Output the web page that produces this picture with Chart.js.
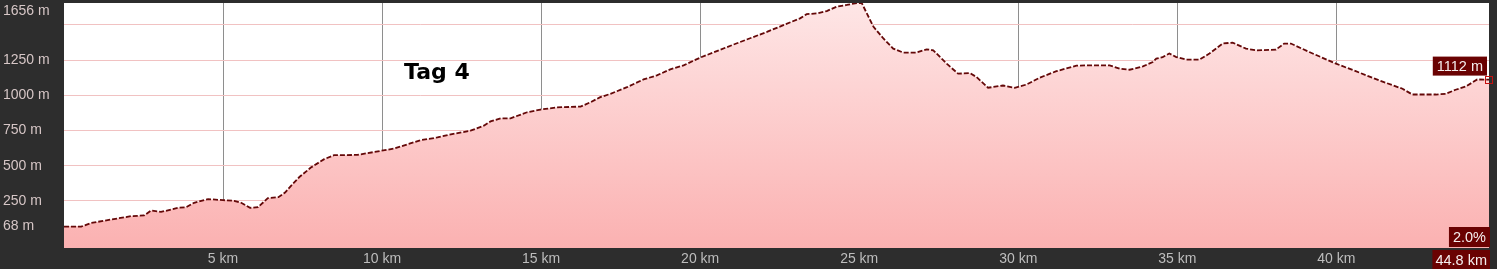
<!DOCTYPE html>
<html>
<head>
<meta charset="utf-8">
<script src="https://cdn.jsdelivr.net/npm/chart.js@4/dist/chart.umd.min.js"></script>
<style>
  html, body { margin: 0; padding: 0; background: #2d2d2d; }
  #wrap { position: relative; width: 1497px; height: 269px; }
  canvas { display: block; }
</style>
</head>
<body>
<div id="wrap"><canvas id="c" width="1497" height="269"></canvas></div>
<script>
const distanceKm = [0, 0.54, 0.86, 1.48, 2.11, 2.52, 2.74, 3.05, 3.58, 3.84, 4.09, 4.53, 5.0, 5.35, 5.57, 5.85, 6.1, 6.41, 6.74, 6.95, 7.13, 7.4, 7.76, 8.18, 8.49, 9.22, 9.96, 10.38, 11.21, 11.74, 12.2, 12.78, 13.2, 13.41, 13.73, 14.04, 14.56, 14.98, 15.5, 16.24, 16.55, 16.86, 17.18, 17.7, 18.22, 18.64, 19.06, 19.48, 20.0, 21.05, 22.1, 23.14, 23.35, 23.67, 23.98, 24.29, 24.61, 24.87, 25.08, 25.24, 25.45, 25.76, 26.07, 26.38, 26.8, 27.12, 27.33, 27.75, 28.11, 28.48, 28.69, 29.05, 29.52, 29.89, 30.26, 30.67, 31.2, 31.83, 32.24, 32.87, 33.19, 33.5, 33.92, 34.23, 34.34, 34.54, 34.75, 34.97, 35.28, 35.7, 36.01, 36.43, 36.74, 37.16, 37.48, 38.1, 38.36, 38.57, 39.15, 39.99, 40.61, 41.35, 42.08, 42.39, 43.13, 43.44, 43.75, 44.07, 44.43, 44.8];
const elevationM = [68, 68, 94, 118, 142, 147, 182, 172, 201, 206, 237, 263, 256, 251, 237, 201, 206, 270, 277, 310, 356, 420, 487, 547, 575, 577, 606, 622, 682, 701, 725, 749, 785, 815, 837, 837, 880, 899, 915, 920, 951, 987, 1011, 1058, 1113, 1142, 1185, 1213, 1268, 1361, 1451, 1547, 1577, 1582, 1599, 1630, 1642, 1654, 1656, 1582, 1487, 1404, 1332, 1304, 1304, 1327, 1320, 1225, 1154, 1158, 1130, 1054, 1070, 1054, 1077, 1125, 1172, 1211, 1213, 1213, 1190, 1182, 1206, 1237, 1261, 1272, 1297, 1272, 1254, 1254, 1297, 1368, 1375, 1332, 1320, 1325, 1368, 1368, 1308, 1225, 1172, 1106, 1047, 1006, 1006, 1011, 1040, 1063, 1113, 1112];
const xTickValues = [5, 10, 15, 20, 25, 30, 35, 40];
const yTickValues = [68, 250, 500, 750, 1000, 1250, 1500, 1656];
const yLabeledTicks = [68, 250, 500, 750, 1000, 1250];
const titleText = 'Tag 4';
const totalDistanceLabel = '44.8 km';
const gradeLabel = '2.0%';

const yMin = -84;
const yMax = Math.max(...elevationM);
const xMax = distanceKm[distanceKm.length - 1];
const points = distanceKm.map((d, i) => ({ x: d, y: elevationM[i] }));

const FONT = '"Liberation Sans", Arial, sans-serif';

function box(ctx, text, right, top, h, padX) {
  ctx.font = '14.5px ' + FONT;
  const w = ctx.measureText(text).width + padX * 2;
  ctx.fillStyle = '#6a0202';
  ctx.fillRect(right - w, top, w, h);
  ctx.fillStyle = '#f4eeee';
  ctx.textAlign = 'center';
  ctx.textBaseline = 'middle';
  ctx.fillText(text, right - w / 2, top + h / 2 + 1);
}

const overlay = {
  id: 'overlay',
  afterDraw(chart) {
    const ctx = chart.ctx;
    const xs = chart.scales.x, ys = chart.scales.y;
    const ca = chart.chartArea;
    ctx.save();
    ctx.font = '14px ' + FONT;
    ctx.fillStyle = '#d6c6c6';
    ctx.textAlign = 'left';
    ctx.textBaseline = 'middle';
    ctx.fillText(yMax + ' m', 3, ys.getPixelForValue(yMax) + 8);
    ctx.font = 'bold 22px "DejaVu Sans", Verdana, sans-serif';
    ctx.fillStyle = '#000';
    ctx.textAlign = 'left';
    ctx.textBaseline = 'alphabetic';
    ctx.fillText(titleText, xs.getPixelForValue(10.69), ys.getPixelForValue(1118));
    const lx = xs.getPixelForValue(xMax);
    const ly = ys.getPixelForValue(elevationM[elevationM.length - 1]);
    ctx.strokeStyle = '#c41010';
    ctx.lineWidth = 1;
    ctx.strokeRect(Math.round(lx) - 3.5, Math.round(ly) - 3.5, 7, 7);
    box(ctx, elevationM[elevationM.length - 1] + ' m', lx - 2, ly - 23, 19, 4);
    box(ctx, gradeLabel, lx + 1, ca.bottom - 21, 20, 4);
    box(ctx, totalDistanceLabel, lx + 1, ca.bottom + 2, 19, 3);
    ctx.restore();
  }
};

new Chart(document.getElementById('c'), {
  type: 'line',
  data: {
    datasets: [{
      data: points,
      borderColor: '#640808',
      borderWidth: 1.8,
      borderDash: [5, 2],
      pointRadius: 0,
      tension: 0,
      fill: 'start',
      backgroundColor(ctx) {
        const ca = ctx.chart.chartArea;
        if (!ca) return '#fcc';
        const g = ctx.chart.ctx.createLinearGradient(0, ca.top, 0, ca.bottom);
        g.addColorStop(0, '#fee6e6');
        g.addColorStop(1, '#fbb1b1');
        return g;
      }
    }]
  },
  options: {
    responsive: false,
    animation: false,
    events: [],
    layout: { padding: { top: 3, right: 8, left: 3, bottom: 0 } },
    plugins: { legend: { display: false }, tooltip: { enabled: false }, title: { display: false } },
    scales: {
      x: {
        type: 'linear',
        min: 0,
        max: xMax,
        z: 1,
        afterBuildTicks(s) { s.ticks = xTickValues.map(v => ({ value: v })); },
        afterFit(s) { s.height = 21; s.paddingLeft = 0; s.paddingRight = 0; },
        grid: { color: '#8e8e8e', lineWidth: 1, drawTicks: false },
        border: { display: false },
        ticks: {
          color: '#bdbdbd',
          font: { family: FONT, size: 14 },
          padding: 3,
          maxRotation: 0,
          autoSkip: false,
          callback: v => v + ' km'
        }
      },
      y: {
        min: yMin,
        max: yMax,
        z: 1,
        afterBuildTicks(s) { s.ticks = yTickValues.map(v => ({ value: v })); },
        afterFit(s) { s.width = 61; s.paddingTop = 0; s.paddingBottom = 0; },
        grid: {
          color: ctx => (ctx.tick && ctx.tick.value === yMax) ? 'rgba(0,0,0,0)' : '#f1c2c2',
          lineWidth: 1,
          drawTicks: false
        },
        border: { display: false },
        ticks: {
          color: '#d6c6c6',
          crossAlign: 'far',
          font: { family: FONT, size: 14 },
          autoSkip: false,
          callback: v => yLabeledTicks.includes(v) ? v + ' m' : ''
        }
      }
    }
  },
  plugins: [overlay, {
    id: 'plotbg',
    beforeDraw(chart) {
      const { ctx, chartArea: ca } = chart;
      ctx.save();
      ctx.fillStyle = '#2d2d2d';
      ctx.fillRect(0, 0, chart.width, chart.height);
      ctx.fillStyle = '#ffffff';
      ctx.fillRect(ca.left, ca.top, ca.right - ca.left, ca.bottom - ca.top);
      ctx.restore();
    }
  }]
});
</script>
</body>
</html>
